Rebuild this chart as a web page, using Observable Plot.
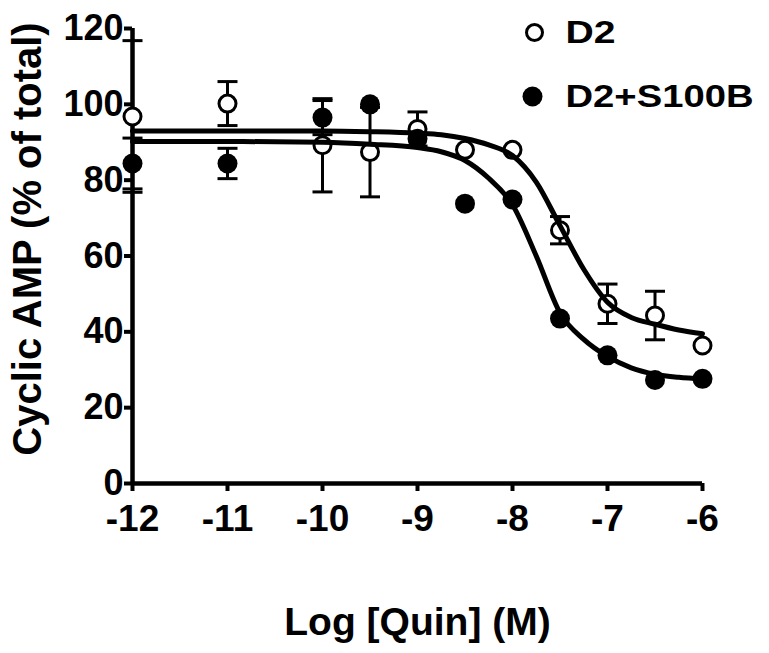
<!DOCTYPE html>
<html>
<head>
<meta charset="utf-8">
<script src="https://cdn.jsdelivr.net/npm/d3@7"></script>
<script src="https://cdn.jsdelivr.net/npm/@observablehq/plot@0.6"></script>
<style>
  html, body { margin: 0; padding: 0; background: #fff; }
</style>
</head>
<body>
<div id="chart"></div>
<script>
// ---- data ----
const logQuin = [-12, -11, -10, -9.5, -9, -8.5, -8, -7.5, -7, -6.5, -6];
const d2Mean    = [96.8, 100.2, 89.2, 87.4, 93.5, 88.0, 88.0, 66.8, 47.4, 44.3, 36.4];
const d2Err     = [20.0, 5.8, 12.3, 11.8, 4.5, 0, 0, 3.6, 5.2, 6.4, 0];
const s100bMean = [84.4, 84.4, 96.5, 100.0, 90.9, 73.8, 74.9, 43.5, 33.8, 27.3, 27.6];
const s100bErr  = [6.7, 4.0, 4.5, 0, 0, 0, 0, 0, 0, 0, 0];

// fitted curves
const curveX      = [-12, -11, -10, -9.5, -9, -8.75, -8.5, -8.25, -8, -7.75, -7.5, -7.25, -7, -6.75, -6.5, -6.25, -6];
const d2Curve     = [93.0, 93.0, 93.0, 92.8, 92.4, 92.0, 91.0, 89.3, 86.5, 79.5, 68.0, 56.5, 47.8, 43.8, 42.0, 40.5, 39.5];
const s100bCurve  = [90.2, 90.2, 90.0, 89.5, 88.6, 87.5, 85.2, 80.5, 73.5, 60.0, 45.0, 38.0, 33.5, 30.5, 28.8, 28.0, 27.6];

const xTicks = [-12, -11, -10, -9, -8, -7, -6];
const yTicks = [0, 20, 40, 60, 80, 100, 120];
const seriesNames = ["D2", "D2+S100B"];
const xLabel = "Log [Quin] (M)";
const yLabel = "Cyclic AMP (% of total)";

// ---- tables ----
const rows = (means, errs) => logQuin.map((x, i) => ({x, y: means[i], lo: means[i] - errs[i], hi: means[i] + errs[i], e: errs[i]}));
const d2Rows = rows(d2Mean, d2Err);
const sRows = rows(s100bMean, s100bErr);
const errRows = [...d2Rows, ...sRows].filter(d => d.e > 0);
const d2Line = curveX.map((x, i) => ({x, y: d2Curve[i]}));
const sLine = curveX.map((x, i) => ({x, y: s100bCurve[i]}));

// horizontal cap symbol for error bars
const capSymbol = {
  draw(ctx, size) {
    const r = Math.sqrt(size / Math.PI);
    ctx.moveTo(-r, 0);
    ctx.lineTo(r, 0);
  }
};

const font = "Liberation Sans, Arial, Helvetica, sans-serif";

const chart = Plot.plot({
  width: 769,
  height: 653,
  marginLeft: 132,
  marginRight: 67,
  marginTop: 28,
  marginBottom: 170,
  style: {fontFamily: font, fontWeight: "bold", color: "black", background: "white", overflow: "visible"},
  x: {domain: [d3.min(xTicks), d3.max(xTicks)]},
  y: {domain: [d3.min(yTicks), d3.max(yTicks)]},
  marks: [
    // axes
    Plot.axisX({ticks: xTicks, tickSize: 8, tickPadding: 13, strokeWidth: 4, fontSize: 37, tickFormat: d => String(d), label: null}),
    Plot.axisY({ticks: yTicks, tickSize: 8, tickPadding: 1, strokeWidth: 4, fontSize: 36, tickFormat: d => String(d), label: null}),
    Plot.ruleY([d3.min(yTicks)], {x1: d3.min(xTicks), x2: d3.max(xTicks), strokeWidth: 4.5}),
    Plot.ruleX([d3.min(xTicks)], {y1: d3.min(yTicks), y2: d3.max(yTicks), strokeWidth: 4.5}),
    // error bars
    Plot.ruleX(errRows, {x: "x", y1: "lo", y2: "hi", strokeWidth: 3}),
    Plot.dot(errRows, {x: "x", y: "hi", symbol: capSymbol, r: 10, stroke: "black", strokeWidth: 3}),
    Plot.dot(errRows, {x: "x", y: "lo", symbol: capSymbol, r: 10, stroke: "black", strokeWidth: 3}),
    // points
    Plot.dot(d2Rows, {x: "x", y: "y", r: 8.5, fill: "white", stroke: "black", strokeWidth: 3}),
    Plot.dot(sRows, {x: "x", y: "y", r: 10, fill: "black"}),
    // fitted curves
    Plot.line(d2Line, {x: "x", y: "y", curve: "monotone-x", strokeWidth: 5}),
    Plot.line(sLine, {x: "x", y: "y", curve: "monotone-x", strokeWidth: 5}),
    // legend
    Plot.dot([seriesNames[0]], {frameAnchor: "top-right", dx: -168, dy: 4, r: 8, fill: "white", stroke: "black", strokeWidth: 3}),
    Plot.text([seriesNames[0]], {frameAnchor: "top-right", dx: -137, dy: 5, text: d => d, textAnchor: "start", lineAnchor: "middle", fontSize: 31}),
    Plot.dot([seriesNames[1]], {frameAnchor: "top-right", dx: -170, dy: 68, r: 10, fill: "black"}),
    Plot.text([seriesNames[1]], {frameAnchor: "top-right", dx: -137, dy: 69, text: d => d, textAnchor: "start", lineAnchor: "middle", fontSize: 31}),
    // axis titles
    Plot.text([xLabel], {frameAnchor: "bottom", dy: 139, text: d => d, textAnchor: "middle", lineAnchor: "middle", fontSize: 39}),
    Plot.text([yLabel], {frameAnchor: "left", dx: -104, dy: -17, rotate: -90, text: d => d, textAnchor: "middle", lineAnchor: "middle", fontSize: 40})
  ]
});

// the legend lettering in the reference is set wider than plain Arial
const legendWidths = {"D2": 50, "D2+S100B": 188};
chart.querySelectorAll("text").forEach(t => {
  const w = legendWidths[t.textContent];
  if (w) { t.setAttribute("textLength", w); t.setAttribute("lengthAdjust", "spacingAndGlyphs"); }
});
document.getElementById("chart").appendChild(chart);
</script>
</body>
</html>
